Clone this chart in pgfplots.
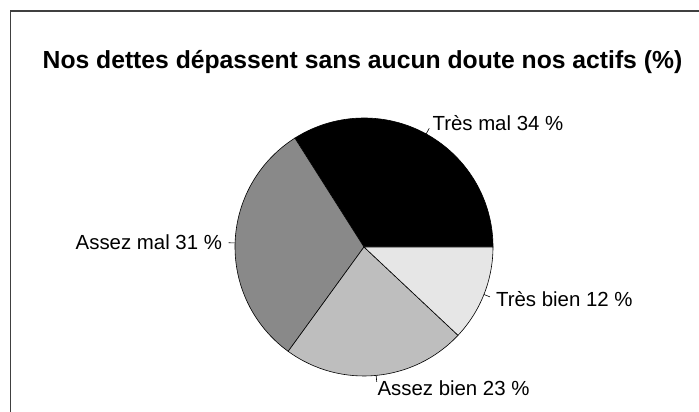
\documentclass[border=0pt]{standalone}
\usepackage{pgfplots}
\usepackage{pgfplotstable}
\pgfplotsset{compat=1.18}
\usetikzlibrary{calc}
\usepackage{fontspec}
\setmainfont{Liberation Sans}
\definecolor{sA}{HTML}{000000}
\definecolor{sB}{HTML}{898989}
\definecolor{sC}{HTML}{BEBEBE}
\definecolor{sD}{HTML}{E6E6E6}
\pgfplotstableread[col sep=comma]{
label,value,col
Très mal,34,sA
Assez mal,31,sB
Assez bien,23,sC
Très bien,12,sD
}\piedata
\begin{document}
\begin{tikzpicture}
\path[use as bounding box] (0,0) rectangle (699bp,412bp);
\begin{axis}[
  at={(0,0)}, anchor=south west,
  x=1bp, y=1bp,
  xmin=0, xmax=699, ymin=0, ymax=412,
  hide axis, clip=false,
]
\pgfplotstablegetrowsof{\piedata}
\pgfmathtruncatemacro{\nrows}{\pgfplotsretval-1}
\def\cx{364}\def\cy{165}\def\rr{129}
\gdef\cum{0}
\pgfplotsforeachungrouped \i in {0,...,\nrows}{%
  \pgfplotstablegetelem{\i}{value}\of{\piedata}\let\val\pgfplotsretval
  \pgfplotstablegetelem{\i}{col}\of{\piedata}\let\col\pgfplotsretval
  \pgfplotstablegetelem{\i}{label}\of{\piedata}\let\lab\pgfplotsretval
  \pgfmathsetmacro{\sa}{\cum*3.6}%
  \pgfmathsetmacro{\ea}{(\cum+\val)*3.6}%
  \pgfmathsetmacro{\ma}{(\sa+\ea)/2}%
  \pgfmathsetmacro{\anch}{cos(\ma)>0 ? "west" : "east"}%
  \edef\temp{%
    \noexpand\filldraw[fill=\col, draw=black, line width=0.6bp]
      (axis cs:\cx,\cy) -- +(\sa:\rr bp) arc[start angle=\sa, end angle=\ea, radius=\rr bp] -- cycle;
    \noexpand\draw[line width=0.6bp] (axis cs:\cx,\cy) ++(\ma:\rr bp) -- +(\ma:6.45bp);
    \noexpand\node[anchor=\anch, inner sep=0pt, font=\noexpand\fontsize{20.4bp}{24bp}\noexpand\selectfont]
      at ($(axis cs:\cx,\cy)+(\ma:141.9bp)$) {\lab\space\val~\noexpand\%};
  }%
  \temp
  \pgfmathsetmacro{\newcum}{\cum+\val}%
  \xdef\cum{\newcum}%
}
\node[font=\fontsize{24.7bp}{29bp}\selectfont\bfseries] at (axis cs:362.5,350) {Nos dettes dépassent sans aucun doute nos actifs (\%)};
\draw[line width=1.6bp, color=black!75] (axis cs:10.5,0) -- (axis cs:10.5,401) -- (axis cs:699,401);
\end{axis}
\end{tikzpicture}
\end{document}
